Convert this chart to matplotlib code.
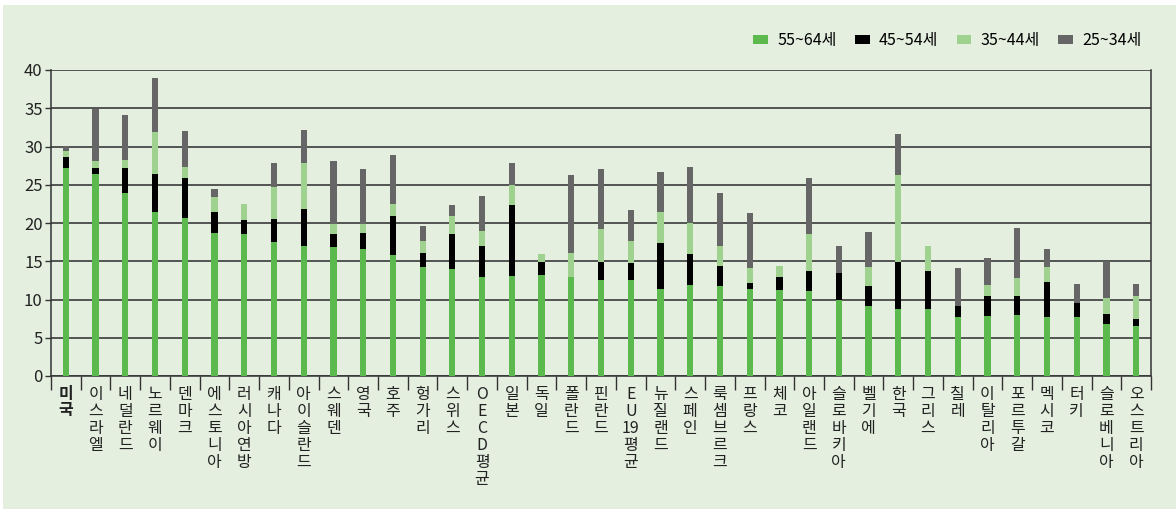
import matplotlib.pyplot as plt
from matplotlib.patches import Rectangle
import numpy as np

plt.rcParams['font.family'] = ['Noto Sans CJK KR', 'DejaVu Sans']

countries = ['미국', '이스라엘', '네덜란드', '노르웨이', '덴마크', '에스토니아', '러시아연방',
             '캐나다', '아이슬란드', '스웨덴', '영국', '호주', '헝가리', '스위스', 'OECD평균',
             '일본', '독일', '폴란드', '핀란드', 'EU19평균', '뉴질랜드', '스페인', '룩셈브르크',
             '프랑스', '체코', '아일랜드', '슬로바키아', '벨기에', '한국', '그리스', '칠레',
             '이탈리아', '포르투갈', '멕시코', '터키', '슬로베니아', '오스트리아']

# cumulative tops, stacked 55~64 / 45~54 / 35~44 / 25~34
top_55_64 = [27.25, 26.4, 23.9, 21.4, 20.7, 18.65, 18.55, 17.5, 17.0, 16.8, 16.55, 15.8,
             14.3, 14.0, 12.9, 13.05, 13.15, 12.9, 12.5, 12.5, 11.35, 11.85, 11.8, 11.35,
             11.25, 11.1, 9.95, 9.1, 8.8, 8.8, 7.7, 7.9, 7.95, 7.7, 7.65, 6.75, 6.55]
top_45_54 = [28.65, 27.2, 27.2, 26.4, 25.85, 21.5, 20.35, 20.55, 21.8, 18.6, 18.7, 20.95,
             16.1, 18.5, 16.95, 22.4, 14.9, 12.9, 14.9, 14.8, 17.4, 15.95, 14.4, 12.15,
             13.0, 13.7, 13.45, 11.8, 14.9, 13.7, 9.2, 10.45, 10.5, 12.35, 9.5, 8.05, 7.5]
top_35_44 = [29.4, 28.1, 28.25, 31.9, 27.3, 23.4, 22.5, 24.7, 27.8, 19.9, 19.9, 22.5,
             17.7, 20.9, 19.0, 25.0, 15.9, 16.1, 19.2, 17.7, 21.4, 20.0, 16.95, 14.15,
             14.4, 18.5, 13.45, 14.3, 26.3, 17.0, 9.2, 11.95, 12.75, 14.25, 9.5, 10.25, 10.4]
top_25_34 = [30.1, 34.9, 34.1, 38.9, 32.0, 24.5, 22.5, 27.9, 32.2, 28.1, 27.0, 28.9,
             19.55, 22.4, 23.5, 27.9, 15.9, 26.3, 27.0, 21.75, 26.7, 27.3, 23.9, 21.35,
             14.4, 25.85, 17.0, 18.8, 31.6, 17.0, 14.1, 15.45, 19.3, 16.65, 12.05, 15.05, 12.05]

series_names = ['55~64세', '45~54세', '35~44세', '25~34세']
colors = ['#5cb94e', '#000000', '#9fd28e', '#666666']

bg = '#e4efdf'

fig = plt.figure(figsize=(11.76, 5.09), dpi=100, facecolor='white')
fig.patches.append(Rectangle((3 / 1176, 0), 1, (509 - 5) / 509, transform=fig.transFigure,
                             facecolor=bg, edgecolor='none', zorder=-10))
ax = fig.add_axes([51 / 1176, 1 - 376 / 509, 1100 / 1176, 306 / 509])
ax.set_facecolor(bg)

x = np.arange(len(countries))
tops = [np.array(top_55_64), np.array(top_45_54), np.array(top_35_44), np.array(top_25_34)]
bottom = np.zeros(len(countries))
for name, col, t in zip(series_names, colors, tops):
    h = np.clip(t - bottom, 0, None)
    ax.bar(x, h, 0.21, bottom=bottom, color=col, label=name, zorder=3)
    bottom = bottom + h

ax.set_xlim(-0.5, len(countries) - 0.5)
ax.set_ylim(0, 40)
ax.set_yticks(range(0, 41, 5))
ax.grid(axis='y', color='#2a2a2a', lw=1.1, zorder=1)
for s in ['left', 'right', 'bottom']:
    ax.spines[s].set_color('#333333')
    ax.spines[s].set_linewidth(1.1)
ax.spines['top'].set_visible(False)
ax.tick_params(axis='y', length=4, width=1, color='#333333', labelsize=12, pad=2,
               labelcolor='#222222')

def vertical(name):
    if name.startswith('EU19'):
        parts = ['E', 'U', '19', '평', '균']
    else:
        parts = list(name)
    return '\n'.join(parts)

ax.set_xticks(x)
ax.set_xticklabels([vertical(c) for c in countries], fontsize=11.5, linespacing=1.0,
                   va='top', color='#222222')
ax.get_xticklabels()[0].set_fontweight('bold')
ax.tick_params(axis='x', length=0, pad=7)
ax.set_xticks(np.arange(-0.5, len(countries), 1), minor=True)
ax.tick_params(axis='x', which='minor', length=10, width=1, color='#333333')

leg = fig.legend(loc='upper right', bbox_to_anchor=(1156 / 1176, 1 - 18 / 509), ncol=4,
                 frameon=False, fontsize=11.5, handlelength=0.9, handleheight=0.5,
                 columnspacing=1.15, handletextpad=0.6)

fig.savefig('out.png', dpi=100, facecolor=fig.get_facecolor())
